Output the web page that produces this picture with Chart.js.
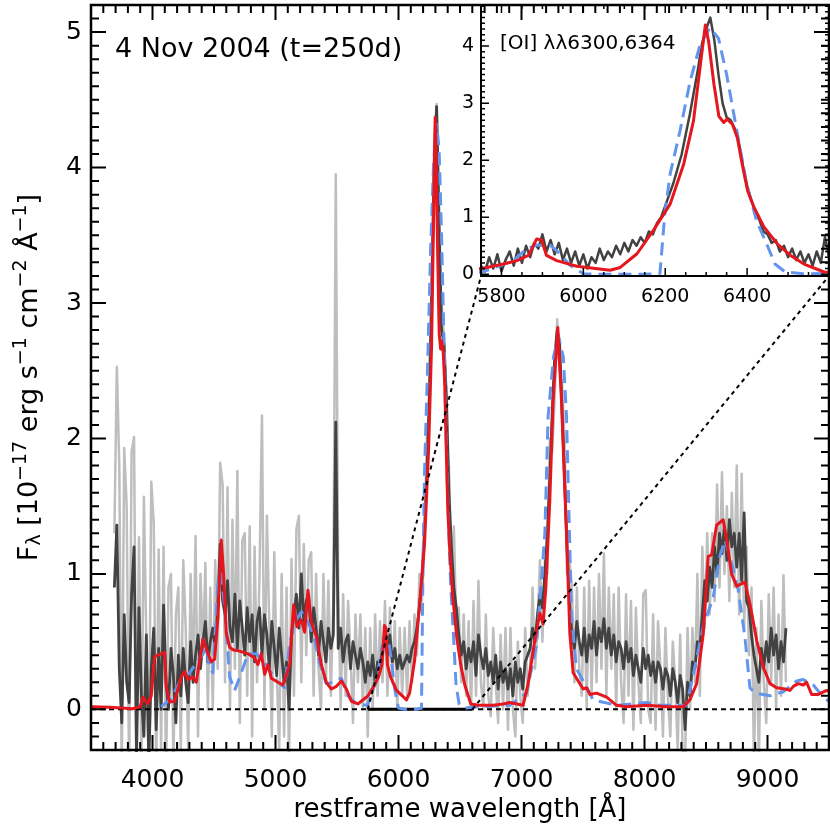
<!DOCTYPE html>
<html>
<head>
<meta charset="utf-8">
<script src="https://cdn.jsdelivr.net/npm/chart.js@4.4.0/dist/chart.umd.min.js"></script>
<style>
  html, body { margin: 0; padding: 0; background: #fff; }
  #wrap { position: relative; width: 830px; height: 830px; }
  canvas { position: absolute; left: 0; top: 0; }
</style>
</head>
<body>
<div id="wrap">
  <canvas id="insetChart" width="830" height="830"></canvas>
  <canvas id="mainChart" width="830" height="830"></canvas>
</div>
<script>
// observed spectrum (20 A bins), light = raw, dark = smoothed
const specWave = [
  3690,3710,3730,3750,3770,3790,3810,3830,3850,3870,
  3890,3910,3930,3950,3970,3990,4010,4030,4050,4070,
  4090,4110,4130,4150,4170,4190,4210,4230,4250,4270,
  4290,4310,4330,4350,4370,4390,4410,4430,4450,4470,
  4490,4510,4530,4550,4570,4590,4610,4630,4650,4670,
  4690,4710,4730,4750,4770,4790,4810,4830,4850,4870,
  4890,4910,4930,4950,4970,4990,5010,5030,5050,5070,
  5090,5110,5130,5150,5170,5190,5210,5230,5250,5270,
  5290,5310,5330,5350,5370,5390,5410,5430,5450,5470,
  5490,5510,5530,5550,5570,5590,5610,5630,5650,5670,
  5690,5710,5730,5750,5770,5790,5810,5830,5850,5870,
  5890,5910,5930,5950,5970,5990,6010,6030,6050,6070,
  6090,6110,6130,6150,6170,6190,6210,6230,6250,6270,
  6290,6310,6330,6350,6370,6390,6410,6430,6450,6470,
  6490,6510,6530,6550,6570,6590,6610,6630,6650,6670,
  6690,6710,6730,6750,6770,6790,6810,6830,6850,6870,
  6890,6910,6930,6950,6970,6990,7010,7030,7050,7070,
  7090,7110,7130,7150,7170,7190,7210,7230,7250,7270,
  7290,7310,7330,7350,7370,7390,7410,7430,7450,7470,
  7490,7510,7530,7550,7570,7590,7610,7630,7650,7670,
  7690,7710,7730,7750,7770,7790,7810,7830,7850,7870,
  7890,7910,7930,7950,7970,7990,8010,8030,8050,8070,
  8090,8110,8130,8150,8170,8190,8210,8230,8250,8270,
  8290,8310,8330,8350,8370,8390,8410,8430,8450,8470,
  8490,8510,8530,8550,8570,8590,8610,8630,8650,8670,
  8690,8710,8730,8750,8770,8790,8810,8830,8850,8870,
  8890,8910,8930,8950,8970,8990,9010,9030,9050,9070,
  9090,9110,9130,9150
];
const specDark = [
  0.9, 1.36, 0.3, -0.1, 0.7, 0.2, 0.05, 0.85, 1.2, -0.35,
  0.75, 0.1, -0.2, 0.55, -0.4, 0.3, 0.6, -0.15, 0.45, 0.0,
  0.77, 0.2, 0.0, 0.45, 0.25, -0.1, 0.4, 0.1, 0.45, 0.2,
  0.05, 0.5, 0.2, 0.4, 0.55, 0.3, 0.5, 0.65, 0.35, 0.5,
  0.6, 0.45, 0.75, 1.22, 0.8, 0.7, 0.95, 0.6, 0.5, 0.85,
  0.45, 0.8, 0.6, 0.4, 0.75, 0.5, 0.7, 0.35, 0.65, 0.75,
  0.4, 0.7, 0.55, 0.3, 0.65, 0.45, 0.25, 0.6, 0.4, 0.2,
  0.35, 0.0, 0.55, 0.7, 0.85, 0.6, 1.0, 0.65, 0.8, 0.85,
  0.5, 0.75, 0.6, 0.4, 0.65, 0.5, 0.35, 0.6, 0.45, 0.55,
  2.12, 0.45, 0.6, 0.35, 0.5, 0.55, 0.3, 0.5, 0.4, 0.3,
  0.45, 0.35, 0.2, 0.35, 0.25, 0.4, 0.2, 0.35, 0.3, 0.45,
  0.5, 0.4, 0.55, 0.35, 0.45, 0.3, 0.4, 0.3, 0.35, 0.4,
  0.35, 0.45, 0.5, 0.6, 0.75, 0.95, 1.3, 1.7, 2.3, 3.1,
  4.0, 4.45, 3.6, 2.8, 2.7, 2.3, 1.6, 1.2, 0.9, 0.75,
  0.55, 0.4, 0.5, 0.3, 0.45, 0.35, 0.5, 0.25, 0.55, 0.4,
  0.3, 0.45, 0.25, 0.35, 0.2, 0.4, 0.15, 0.35, 0.2, 0.3,
  0.15, 0.3, 0.1, 0.35, 0.2, 0.3, 0.15, 0.35, 0.4, 0.45,
  0.6, 0.5, 0.7, 0.85, 0.75, 1.0, 1.3, 1.7, 2.2, 2.6,
  2.8, 2.7, 2.2, 1.7, 1.2, 0.8, 0.55, 0.45, 0.65, 0.5,
  0.4, 0.6, 0.35, 0.55, 0.45, 0.65, 0.4, 0.6, 0.5, 0.67,
  0.45, 0.6, 0.4, 0.55, 0.35, 0.5, 0.45, 0.3, 0.5, 0.35,
  0.45, 0.25, 0.4, 0.3, 0.2, 0.45, 0.3, 0.4, 0.25, 0.35,
  0.2, 0.35, 0.3, 0.15, 0.3, 0.25, 0.1, 0.3, 0.2, 0.05,
  0.25, 0.15, -0.15, 0.2, 0.1, 0.35, 0.3, 0.5, 0.45, 0.7,
  0.95, 0.8, 1.05, 0.9, 1.2, 1.0, 1.3, 1.15, 1.35, 1.1,
  1.4, 1.2, 1.3, 1.05, 1.3, 0.95, 1.45, 0.8, 0.75, 0.55,
  0.4, 0.3, 0.2, 0.45, 0.3, 0.5, 0.35, 0.6, 0.4, 0.55,
  0.3, 0.5, 0.35, 0.6
];
const specLight = [
  1.3, 2.53, 1.8, -0.5, 1.93, 1.5, -0.5, 1.9, 2.01, -0.5,
  1.27, -0.4, 1.57, 0.5, -0.5, 1.68, 1.38, -0.5, 1.18, -0.3,
  1.2, -0.5, 0.9, 1.0, -0.4, 0.7, 0.9, -0.3, 1.1, 0.6,
  -0.3, 1.0, 0.2, 1.28, -0.2, 1.0, 0.4, 1.08, 0.0, 0.9,
  0.0, 1.1, 0.3, 1.82, 1.66, 0.2, 1.64, 0.0, 1.4, 0.3,
  1.76, -0.1, 1.25, 1.3, 0.1, 1.35, -0.2, 1.2, 0.2, 1.0,
  2.17, 0.0, 1.43, 0.6, -0.2, 1.16, 0.3, -0.3, 1.0, -0.2,
  0.9, -0.4, 1.11, 0.1, 1.33, 1.43, 0.2, 1.22, 0.4, 1.1,
  1.16, 0.1, 1.0, 0.3, 0.0, 1.0, 0.2, 0.95, 0.1, 0.8,
  3.95, 0.9, 0.0, 0.85, 0.1, 0.8, 0.4, -0.1, 0.7, 0.2,
  0.7, 0.0, 0.6, -0.2, 0.6, 0.0, 0.7, 0.1, 0.65, 0.2,
  0.8, 0.1, 0.75, 0.2, 0.65, 0.0, 0.6, 0.1, 0.6, 0.1,
  0.65, 0.2, 0.7, 0.4, 1.0, 0.8, 1.2, 2.0, 2.2, 3.0,
  4.2, 4.47, 3.3, 3.0, 2.75, 2.0, 1.8, 1.0, 1.35, 0.6,
  0.75, 0.2, 0.7, 0.1, 0.65, 0.0, 0.8, 0.1, 0.95, 0.2,
  0.0, 0.7, 0.1, -0.05, 0.6, 0.2, -0.1, 0.55, 0.0, 0.6,
  -0.15, 0.6, 0.0, -0.2, 0.5, 0.1, -0.1, 0.6, 0.1, 0.3,
  0.9, 0.3, 0.6, 1.1, 0.5, 1.1, 1.0, 2.0, 1.9, 2.3,
  2.88, 2.5, 2.4, 2.0, 1.0, 1.1, 0.9, 0.2, 0.9, 0.3,
  0.1, 0.9, 0.0, 0.95, 0.1, 0.9, 0.2, 1.0, 0.3, 1.15,
  0.1, 0.9, 0.3, 0.85, 0.0, 0.9, 0.2, -0.1, 0.85, 0.1,
  0.8, -0.15, 0.75, 0.2, -0.1, 0.85, 0.88, 0.0, -0.1, 0.7,
  -0.15, 0.65, 0.3, -0.2, 0.6, 0.1, -0.2, 0.5, 0.2, -0.3,
  0.55, -0.3, -0.4, 0.6, 0.0, 0.6, 0.2, 1.0, 0.1, 1.2,
  0.6, 1.3, 0.7, 1.3, 0.8, 1.66, 0.9, 1.75, 1.0, 1.5,
  0.8, 1.6, 0.9, 1.8, 0.7, 1.74, 0.6, 1.2, 0.4, 0.9,
  -0.4, 0.6, -0.4, 0.8, 0.2, -0.1, 0.85, 0.2, 0.9, 0.0,
  0.7, 0.1, 0.99, 0.2
];

// finer sampling of the [OI] region for the inset
const insetWave = [
  5750,5760,5770,5780,5790,5800,5810,5820,5830,5840,
  5850,5860,5870,5880,5890,5900,5910,5920,5930,5940,
  5950,5960,5970,5980,5990,6000,6010,6020,6030,6040,
  6050,6060,6070,6080,6090,6100,6110,6120,6130,6140,
  6150,6160,6170,6180,6190,6200,6210,6220,6230,6240,
  6250,6260,6270,6280,6290,6300,6310,6320,6330,6340,
  6350,6360,6370,6380,6390,6400,6410,6420,6430,6440,
  6450,6460,6470,6480,6490,6500,6510,6520,6530,6540,
  6550,6560,6570,6580,6590,6600
];
const insetDark = [
  0.15, 0.05, 0.3, 0.1, 0.35, 0.05, 0.25, 0.4, 0.15, 0.45,
  0.2, 0.5, 0.3, 0.55, 0.45, 0.7, 0.4, 0.6, 0.35, 0.55,
  0.25, 0.45, 0.2, 0.4, 0.15, 0.35, 0.1, 0.3, 0.2, 0.45,
  0.25, 0.4, 0.3, 0.5, 0.35, 0.55, 0.4, 0.6, 0.5, 0.65,
  0.55, 0.75, 0.7, 0.9, 1.0, 1.2, 1.4, 1.6, 1.85, 2.1,
  2.45, 2.8, 3.2, 3.6, 4.05, 4.3, 4.5, 4.1, 3.5, 3.0,
  2.75, 2.7, 2.55, 2.3, 1.9, 1.55, 1.3, 1.1, 0.95, 0.75,
  0.7, 0.55, 0.6, 0.4, 0.5, 0.3, 0.45, 0.25, 0.4, 0.2,
  0.35, 0.15, 0.4, 0.2, 0.65, 0.3
];

// model spectra
const redWave = [
  3500,3650,3840,3900,3922,3962,3990,4017,4098,4112,
  4139,4179,4234,4261,4288,4328,4356,4410,4451,4478,
  4505,4532,4559,4578,4600,4627,4654,4708,4776,4830,
  4857,4885,4912,4939,4966,5020,5061,5115,5147,5174,
  5210,5237,5264,5291,5332,5373,5413,5454,5495,5536,
  5576,5617,5671,5725,5752,5805,5838,5866,5886,5898,
  5910,5935,5984,6065,6090,6131,6171,6212,6245,6269,
  6286,6298,6306,6319,6331,6343,6351,6364,6376,6388,
  6401,6417,6441,6474,6506,6539,6588,6650,6769,6850,
  6905,7013,7054,7108,7149,7176,7198,7230,7257,7295,
  7325,7366,7393,7420,7461,7502,7529,7556,7610,7692,
  7773,7854,8017,8180,8315,8369,8424,8478,8518,8546,
  8586,8640,8668,8708,8749,8817,8857,8912,8966,9020,
  9074,9142,9183,9210,9250,9291,9318,9359,9413,9481,
  9500
];
const redFlux = [
  0.02, 0.015, 0.005, 0.02, 0.09, 0.04, 0.1, 0.39, 0.42, 0.165,
  0.054, 0.06, 0.24, 0.28, 0.22, 0.24, 0.2, 0.52, 0.41, 0.35,
  0.37, 0.68, 1.25, 1.0, 0.56, 0.46, 0.44, 0.43, 0.41, 0.38,
  0.33, 0.41, 0.26, 0.33, 0.23, 0.2, 0.18, 0.33, 0.77, 0.61,
  0.66, 0.57, 0.88, 0.64, 0.54, 0.33, 0.2, 0.15, 0.17, 0.21,
  0.15, 0.06, 0.04, 0.08, 0.1, 0.18, 0.24, 0.33, 0.62, 0.6,
  0.33, 0.24, 0.14, 0.07, 0.12, 0.36, 0.77, 1.23, 1.93, 2.69,
  3.68, 4.37, 4.08, 3.33, 2.77, 2.66, 2.72, 2.63, 2.4, 1.93,
  1.47, 1.17, 0.83, 0.53, 0.33, 0.18, 0.04, 0.03, 0.03, 0.04,
  0.05, 0.03, 0.19, 0.51, 0.71, 0.63, 0.9, 1.54, 2.28, 2.82,
  2.28, 1.3, 0.56, 0.27, 0.21, 0.15, 0.16, 0.11, 0.12, 0.09,
  0.03, 0.02, 0.03, 0.02, 0.02, 0.07, 0.19, 0.56, 1.13, 1.14,
  1.36, 1.4, 1.25, 1.0, 0.91, 0.94, 0.78, 0.51, 0.31, 0.19,
  0.16, 0.15, 0.14, 0.17, 0.19, 0.18, 0.2, 0.11, 0.11, 0.14,
  0.13
];
const blueWave = [
  4071,4085,4152,4220,4301,4369,4410,4437,4464,4491,
  4532,4559,4586,4627,4668,4722,4776,4844,4925,5007,
  5074,5115,5156,5210,5264,5305,5359,5413,5467,5536,
  5590,5658,5739,5752,5788,5829,5862,5886,5919,5943,
  5967,6000,6049,6146,6187,6199,6212,6236,6261,6285,
  6309,6330,6350,6375,6399,6423,6448,6468,6493,6537,
  6661,6905,7040,7122,7190,7216,7260,7300,7340,7366,
  7407,7447,7502,7583,7773,8017,8126,8342,8397,8478,
  8559,8613,8654,8708,8762,8817,8857,8898,9020,9128,
  9237,9291,9372,9454,9500
];
const blueFlux = [
  0.02, 0.03, 0.08, 0.2, 0.27, 0.36, 0.41, 0.46, 0.31, 0.27,
  0.93, 1.0, 0.76, 0.24, 0.14, 0.27, 0.41, 0.41, 0.33, 0.21,
  0.16, 0.49, 0.64, 0.72, 0.64, 0.56, 0.34, 0.19, 0.2, 0.23,
  0.1, 0.04, 0.03, 0.04, 0.13, 0.24, 0.45, 0.51, 0.51, 0.36,
  0.16, 0.01, 0.0, 0.0, 0.01, 1.06, 1.76, 2.51, 3.39, 4.02,
  4.32, 4.14, 3.5, 2.51, 1.58, 0.94, 0.53, 0.18, 0.04, 0.01,
  0.02, 0.03, 0.12, 0.47, 1.3, 2.16, 2.6, 2.76, 2.6, 2.16,
  0.68, 0.3, 0.21, 0.07, 0.03, 0.05, 0.03, 0.03, 0.26, 0.61,
  0.83, 1.13, 1.25, 1.08, 0.88, 0.53, 0.16, 0.12, 0.1, 0.13,
  0.21, 0.22, 0.18, 0.09, 0.06
];

// axes
const xLimits = [3500, 9500];
const yLimits = [-0.3, 5.2];
const xTicks = [4000, 5000, 6000, 7000, 8000, 9000];
const yTicks = [0, 1, 2, 3, 4, 5];
const zoomRange = [5750, 6600];
const insetYLimits = [-0.03, 4.72];
const insetXTicks = [5800, 6000, 6200, 6400];
const insetYTicks = [0, 1, 2, 3, 4];

const FONT = "'DejaVu Sans', 'Liberation Sans', sans-serif";
const RED = '#e5161e';
const BLUE = '#6495ed';
const DARK = '#424242';
const LIGHT = '#bebebe';

const pts = (xs, ys) => xs.map((v, i) => ({ x: v, y: ys[i] }));
const line = (data, color, width, extra) => Object.assign({
  data, borderColor: color, borderWidth: width, pointRadius: 0,
  fill: false, tension: 0, borderJoinStyle: 'round', clip: 2
}, extra || {});

// frame + inward ticks on all four sides
const framePlugin = {
  id: 'frameTicks',
  afterDraw(chart, args, o) {
    const { ctx, chartArea: a, scales: { x, y } } = chart;
    ctx.save();
    ctx.strokeStyle = '#000';
    ctx.lineWidth = o.tickWidth;
    ctx.beginPath();
    for (let i = Math.ceil(x.min / o.xMinor - 1e-9); i * o.xMinor <= x.max + 1e-9; i++) {
      const px = x.getPixelForValue(i * o.xMinor);
      const len = i % o.xEvery === 0 ? o.major : o.minor;
      ctx.moveTo(px, a.bottom); ctx.lineTo(px, a.bottom - len);
      ctx.moveTo(px, a.top); ctx.lineTo(px, a.top + len);
    }
    for (let i = Math.ceil(y.min / o.yMinor - 1e-9); i * o.yMinor <= y.max + 1e-9; i++) {
      const py = y.getPixelForValue(i * o.yMinor);
      const len = i % o.yEvery === 0 ? o.major : o.minor;
      ctx.moveTo(a.left, py); ctx.lineTo(a.left + len, py);
      ctx.moveTo(a.right, py); ctx.lineTo(a.right - len, py);
    }
    ctx.stroke();
    ctx.lineWidth = o.frameWidth;
    ctx.strokeRect(a.left, a.top, a.right - a.left, a.bottom - a.top);
    ctx.restore();
  }
};

function fixedTicks(values) {
  return s => { s.ticks = values.map(v => ({ value: v })); };
}
// fixed axis box, no extra label padding so the plot area is exact
function fitY(w) {
  return s => { s.width = w; s.paddingTop = 0; s.paddingBottom = 0; };
}
function fitX(h) {
  return s => { s.height = h; s.paddingLeft = 0; s.paddingRight = 0; };
}

// ---------- inset ----------
const insetPlugin = {
  id: 'insetText',
  afterDraw(chart) {
    const { ctx, chartArea: a } = chart;
    ctx.save();
    ctx.fillStyle = '#000';
    ctx.font = '20px ' + FONT;
    ctx.textBaseline = 'alphabetic';
    ctx.fillText('[OI] λλ6300,6364', a.left + 19, a.top + 44);
    ctx.restore();
  }
};

const insetChart = new Chart(document.getElementById('insetChart'), {
  type: 'line',
  data: {
    datasets: [
      line(pts(redWave, redFlux), RED, 3),
      line(pts(blueWave, blueFlux), BLUE, 3, { borderDash: [13, 7] }),
      line(pts(insetWave, insetDark), DARK, 2.5)
    ]
  },
  options: {
    responsive: false,
    devicePixelRatio: 1,
    animation: false,
    layout: { padding: { left: 441, right: 1, top: 5, bottom: 514 } },
    plugins: {
      legend: { display: false },
      tooltip: { enabled: false },
      frameTicks: { xMinor: 50, xEvery: 4, yMinor: 0.1, yEvery: 10, major: 8, minor: 4, tickWidth: 1.5, frameWidth: 2 }
    },
    scales: {
      x: {
        type: 'linear', min: zoomRange[0], max: zoomRange[1],
        grid: { display: false, drawTicks: false }, border: { display: false },
        afterBuildTicks: fixedTicks(insetXTicks),
        afterFit: fitX(40),
        ticks: { color: '#000', font: { family: FONT, size: 19 }, padding: 10, maxRotation: 0, autoSkip: false, callback: v => String(v) }
      },
      y: {
        type: 'linear', min: insetYLimits[0], max: insetYLimits[1],
        grid: { display: false, drawTicks: false }, border: { display: false },
        afterBuildTicks: fixedTicks(insetYTicks),
        afterFit: fitY(40),
        ticks: { color: '#000', font: { family: FONT, size: 19 }, padding: 7, callback: v => String(v) }
      }
    }
  },
  plugins: [framePlugin, insetPlugin]
});

// ---------- main ----------
function drawRich(ctx, parts, size) {
  const fontFor = p => (p[1] ? Math.round(size * 0.7) : size) + 'px ' + FONT;
  let total = 0;
  for (const p of parts) { ctx.font = fontFor(p); total += ctx.measureText(p[0]).width; }
  let cx = -total / 2;
  for (const p of parts) {
    ctx.font = fontFor(p);
    const dy = p[1] === 'sup' ? -0.42 * size : p[1] === 'sub' ? 0.12 * size : 0;
    ctx.fillText(p[0], cx, dy);
    cx += ctx.measureText(p[0]).width;
  }
}

const mainText = {
  id: 'mainText',
  afterDatasetsDraw(chart) {
    const { ctx, scales: { x, y } } = chart;
    const ia = insetChart.chartArea;
    const y0 = y.getPixelForValue(0);
    ctx.save();
    ctx.strokeStyle = '#000';
    ctx.lineWidth = 2;
    ctx.setLineDash([4, 4]);
    ctx.beginPath();
    ctx.moveTo(x.getPixelForValue(zoomRange[0]), y0); ctx.lineTo(ia.left, ia.bottom);
    ctx.moveTo(x.getPixelForValue(zoomRange[1]), y0); ctx.lineTo(ia.right, ia.bottom);
    ctx.stroke();
    ctx.restore();
  },
  afterDraw(chart) {
    const { ctx, chartArea: a } = chart;
    ctx.save();
    ctx.fillStyle = '#000';
    ctx.textBaseline = 'alphabetic';
    ctx.font = '27px ' + FONT;
    ctx.textAlign = 'left';
    ctx.fillText('4 Nov 2004 (t=250d)', a.left + 24, a.top + 52);
    ctx.font = '26px ' + FONT;
    ctx.textAlign = 'center';
    ctx.fillText('restframe wavelength [Å]', (a.left + a.right) / 2, 817);
    ctx.translate(37, (a.top + a.bottom) / 2);
    ctx.rotate(-Math.PI / 2);
    ctx.textAlign = 'left';
    drawRich(ctx, [
      ['F', ''], ['λ', 'sub'], [' [10', ''], ['−17', 'sup'], [' erg s', ''], ['−1', 'sup'],
      [' cm', ''], ['−2', 'sup'], [' Å', ''], ['−1', 'sup'], [']', '']
    ], 27);
    ctx.restore();
  }
};

new Chart(document.getElementById('mainChart'), {
  type: 'line',
  data: {
    datasets: [
      line(pts(redWave, redFlux), RED, 3),
      line(pts(blueWave, blueFlux), BLUE, 3, { borderDash: [13, 7] }),
      line(pts(zoomRange, [0, 0]), '#000', 3),
      line(pts(xLimits, [0, 0]), '#000', 2, { borderDash: [5, 4] }),
      line(pts(specWave, specDark), DARK, 2.8),
      line(pts(specWave, specLight), LIGHT, 2.5)
    ]
  },
  options: {
    responsive: false,
    devicePixelRatio: 1,
    animation: false,
    layout: { padding: { left: 0, right: 1, top: 5, bottom: 0 } },
    plugins: {
      legend: { display: false },
      tooltip: { enabled: false },
      frameTicks: { xMinor: 100, xEvery: 10, yMinor: 0.1, yEvery: 10, major: 15, minor: 8, tickWidth: 2, frameWidth: 2.5 }
    },
    scales: {
      x: {
        type: 'linear', min: xLimits[0], max: xLimits[1],
        grid: { display: false, drawTicks: false }, border: { display: false },
        afterBuildTicks: fixedTicks(xTicks),
        afterFit: fitX(80),
        ticks: { color: '#000', font: { family: FONT, size: 25 }, padding: 15, maxRotation: 0, autoSkip: false, callback: v => String(v) }
      },
      y: {
        type: 'linear', min: yLimits[0], max: yLimits[1],
        grid: { display: false, drawTicks: false }, border: { display: false },
        afterBuildTicks: fixedTicks(yTicks),
        afterFit: fitY(91),
        ticks: { color: '#000', font: { family: FONT, size: 25 }, padding: 9, callback: v => String(v) }
      }
    }
  },
  plugins: [framePlugin, mainText]
});
</script>
</body>
</html>
